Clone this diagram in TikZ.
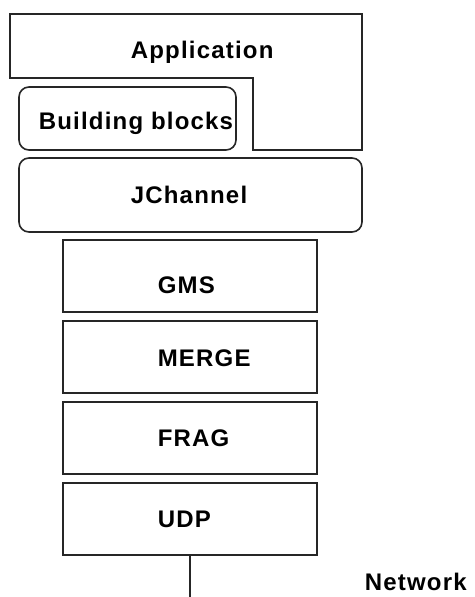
\documentclass[tikz,border=0pt]{standalone}
\usepackage{fontspec}
\setmainfont{Liberation Sans}[LetterSpace=5]
\begin{document}
\begin{tikzpicture}[x=1pt,y=-1pt,
  line width=1.6pt,
  edge/.style={draw=black!85},
  layer/.style={edge, minimum width=254pt, minimum height=72pt, inner sep=0pt},
  rlayer/.style={edge, rounded corners=10pt, inner sep=0pt},
  lbl/.style={font=\bfseries\fontsize{24}{28}\selectfont, inner sep=0pt, anchor=base west}
]
\useasboundingbox (0,0) rectangle (474,597);

% Application frame with notch for the building blocks
\draw[edge] (10,14) -- (362,14) -- (362,150) -- (253,150) -- (253,78) -- (10,78) -- cycle;
\node[lbl] (app) at (130,58) {Application};

% Building blocks and JChannel
\node[rlayer, minimum width=217pt, minimum height=63pt] (bb) at (127.5,118.5) {};
\node[lbl] (bbt) at (38,129) {Building blocks};
\node[rlayer, minimum width=343pt, minimum height=74pt] (jch) at (190.5,195) {};
\node[lbl] (jct) at (130,203) {JChannel};

% Protocol stack
\node[layer] (gms) at (190,276) {};
\node[layer] (merge) at (190,357) {};
\node[layer] (frag) at (190,438) {};
\node[layer] (udp) at (190,519) {};
\node[lbl] at (157,293) {GMS};
\node[lbl] at (157,366) {MERGE};
\node[lbl] at (157,446) {FRAG};
\node[lbl] at (157,527) {UDP};

% Network attachment
\coordinate (net) at (190,597);
\draw[edge] (udp.south) -- (net);
\node[lbl] (nett) at (364,590) {Network};
\end{tikzpicture}
\end{document}
